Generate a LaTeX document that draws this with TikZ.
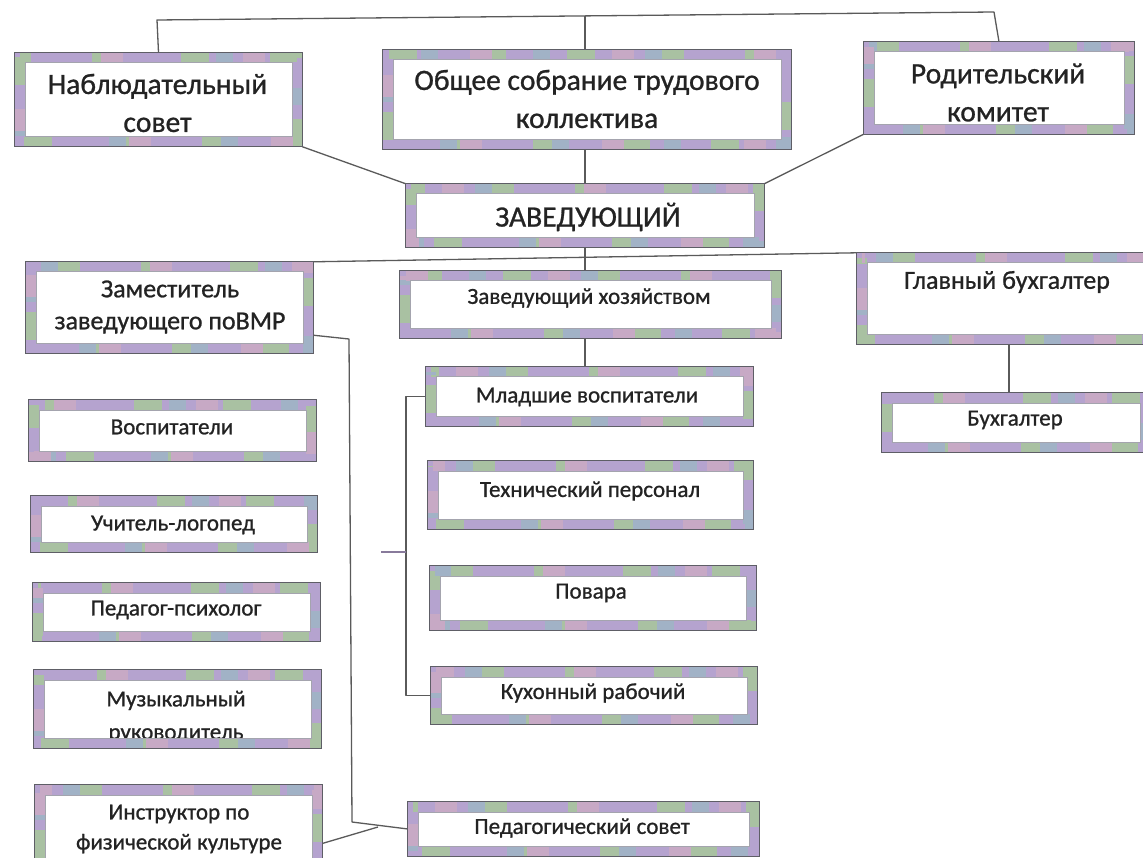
\documentclass[tikz,border=0pt]{standalone}
\usepackage{fontspec}
\setmainfont{Carlito}[RawFeature={embolden=0.9}]
\usetikzlibrary{calc}
\definecolor{lav}{HTML}{B5A3CF}
\definecolor{grn}{HTML}{A9C1A2}
\definecolor{blg}{HTML}{A1B2C6}
\definecolor{pnk}{HTML}{C7A9C5}
\definecolor{outl}{HTML}{5E5E66}
\definecolor{inl}{HTML}{A4A4AE}
\definecolor{ink}{HTML}{232323}
\definecolor{wire}{HTML}{5A5A5A}
\tikzset{
  frame/.style={rectangle, inner sep=0pt},
  wh/.style 2 args={minimum width=#1pt, minimum height=#2pt},
  txt/.style={inner sep=0pt, align=center, text=ink},
  big/.style={txt, font=\fontsize{29.5}{38}\selectfont},
  mid/.style={txt, font=\fontsize{26}{32}\selectfont},
  sml/.style={txt, font=\fontsize{23}{33}\selectfont},
  conn/.style={draw=wire, line width=1.3pt, line join=round},
  band/.style={line width=10pt},
}
\newcommand\orgframe[2]{%
  \draw[band, lav] ([shift={(5pt,-5pt)}]#1.north west) rectangle ([shift={(-5pt,5pt)}]#1.south east);
  \draw[band, grn, dash pattern=on 28pt off 61pt, dash phase=#2pt] ([shift={(5pt,-5pt)}]#1.north west) rectangle ([shift={(-5pt,5pt)}]#1.south east);
  \draw[band, blg, dash pattern=on 17pt off 95pt, dash phase=#2pt+50pt] ([shift={(5pt,-5pt)}]#1.north west) rectangle ([shift={(-5pt,5pt)}]#1.south east);
  \draw[band, pnk, dash pattern=on 22pt off 120pt, dash phase=#2pt+90pt] ([shift={(5pt,-5pt)}]#1.north west) rectangle ([shift={(-5pt,5pt)}]#1.south east);
  \draw[outl, line width=1.1pt] (#1.north west) rectangle (#1.south east);
  \draw[inl, line width=0.6pt] ([shift={(10pt,-10pt)}]#1.north west) rectangle ([shift={(-10pt,10pt)}]#1.south east);
}
\begin{document}
\begin{tikzpicture}[x=1pt, y=-1pt]
\useasboundingbox (0,0) rectangle (1143,858);
\clip (0,0) rectangle (1143,858);
\fill[white] (0,0) rectangle (1143,858);

% frames (nodes)
\node[frame, wh={287}{94}]  (nab)  at (158.5,99.5) {};
\node[frame, wh={408}{100}] (obs)  at (587,99.5)   {};
\node[frame, wh={270}{92}]  (rod)  at (999,88)     {};
\node[frame, wh={358}{63}]  (zav)  at (585,215.5)  {};
\node[frame, wh={287}{91}]  (zam)  at (169.5,307.5) {};
\node[frame, wh={381}{67}]  (zkh)  at (590.5,304.5) {};
\node[frame, wh={300}{91}]  (glav) at (1007,298.5) {};
\node[frame, wh={268}{59}]  (buh)  at (1016,422.5) {};
\node[frame, wh={287}{61}]  (vos)  at (172.5,430.5) {};
\node[frame, wh={286}{56}]  (uch)  at (174,524)    {};
\node[frame, wh={287}{58}]  (pp)   at (176.5,612)  {};
\node[frame, wh={287}{78}]  (muz)  at (177.5,709)  {};
\node[frame, wh={287}{95}]  (ins)  at (178.5,832.5) {};
\node[frame, wh={327}{59}]  (mlad) at (589.5,396.5) {};
\node[frame, wh={325}{68}]  (tech) at (590.5,495)  {};
\node[frame, wh={326}{64}]  (pov)  at (593,598)    {};
\node[frame, wh={326}{57}]  (kuh)  at (594,695.5)  {};
\node[frame, wh={351}{54}]  (ped)  at (583.5,829)  {};

% texts
\node[big] (nab-t)  at (157.5,103)  {Наблюдательный\\совет};
\node[big] (obs-t)  at (587,99)     {Общее собрание трудового\\коллектива};
\node[big] (rod-t)  at (998,92.5)   {Родительский\\комитет};
\node[big] (zav-t)  at (588,217)    {ЗАВЕДУЮЩИЙ};
\node[mid] (zam-t)  at (170,307)    {Заместитель\\заведующего поВМР};
\node[sml] (zkh-t)  at (589,298)    {Заведующий хозяйством};
\node[mid] (glav-t) at (1007,282)   {Главный бухгалтер};
\node[sml] (buh-t)  at (1015,420)   {Бухгалтер};
\node[sml] (vos-t)  at (172,427)    {Воспитатели};
\node[sml] (uch-t)  at (173,525)    {Учитель-логопед};
\node[sml] (pp-t)   at (176,610)    {Педагог-психолог};
\node[sml] (muz-t)  at (176,717)    {Музыкальный\\руководитель};
\node[sml, font=\fontsize{23}{30}\selectfont] (ins-t) at (179,829) {Инструктор по\\физической культуре};
\node[sml] (mlad-t) at (587,397)    {Младшие воспитатели};
\node[sml] (tech-t) at (590,491)    {Технический персонал};
\node[sml] (pov-t)  at (591,593)    {Повара};
\node[sml] (kuh-t)  at (593,693)    {Кухонный рабочий};
\node[sml] (ped-t)  at (582,828)    {Педагогический совет};

% helper coordinates
\coordinate (tl) at (157,20);
\coordinate (tr) at (994,12);
\coordinate (tm) at (0,16);
\coordinate (zt) at (349,339);
\coordinate (zb) at (352,822);
\coordinate (pj) at (378,827);
\coordinate (bx) at (406,0);
\coordinate (bv) at (1009,0);
\coordinate (brtip) at (381,552);

% connectors
\draw[conn] (nab.north) -- (tl) -- (tr) -- (rod.north);
\draw[conn] (obs.north -| zav.south) -- (zav.south |- tm);
\draw[conn] (obs.south -| zav.south) -- (zav.north);
\draw[conn] (nab.south east) -- (zav.north west);
\draw[conn] (rod.south west) -- (zav.north east);
\draw[conn] (zam.north east) -- (glav.north west);
\draw[conn] (zav.south) -- (zav.south |- zkh.north);
\draw[conn] (zav.south |- zkh.south) -- (zav.south |- mlad.north);
\draw[conn] (bv |- glav.south) -- (bv |- buh.north);
\draw[conn] ([yshift=18pt]zam.south east) -- (zt) -- (zb) -- (ped.west);
\draw[conn] ([yshift=-11pt]ins.east) -- (pj);
\draw[conn] (mlad.west) -- (mlad.west -| bx) -- (bx |- kuh.west) -- (kuh.west);
\draw[conn, draw=lav!75!black] (brtip -| bx) -- (brtip);

% frame bands (drawn over the texts, as in the original)
\orgframe{nab}{0}
\orgframe{obs}{31}
\orgframe{rod}{57}
\orgframe{zav}{12}
\orgframe{zam}{44}
\orgframe{zkh}{70}
\orgframe{glav}{22}
\orgframe{buh}{83}
\orgframe{vos}{5}
\orgframe{uch}{38}
\orgframe{pp}{64}
\orgframe{muz}{18}
\orgframe{ins}{49}
\orgframe{mlad}{76}
\orgframe{tech}{27}
\orgframe{pov}{9}
\orgframe{kuh}{53}
\orgframe{ped}{35}
\end{tikzpicture}
\end{document}
